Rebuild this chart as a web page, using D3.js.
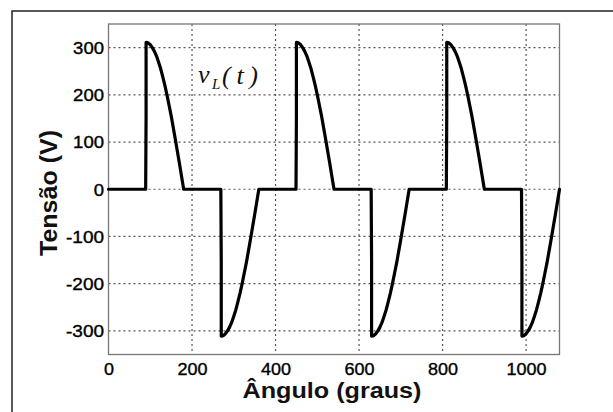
<!DOCTYPE html>
<html>
<head>
<meta charset="utf-8">
<script src="https://cdn.jsdelivr.net/npm/d3@7"></script>
<style>
  html, body { margin: 0; padding: 0; background: #fff; }
  svg { display: block; }
</style>
</head>
<body>
<svg id="chart" width="613" height="412"></svg>
<script>
// ---- Data ----
const angles = [
  0, 89, 90, 90, 95, 100, 105, 110, 115, 120, 125, 130, 135, 140, 145, 150, 155, 160, 165, 170, 175, 180,
  269, 270, 270, 275, 280, 285, 290, 295, 300, 305, 310, 315, 320, 325, 330, 335, 340, 345, 350, 355, 360,
  449, 450, 450, 455, 460, 465, 470, 475, 480, 485, 490, 495, 500, 505, 510, 515, 520, 525, 530, 535, 540,
  629, 630, 630, 635, 640, 645, 650, 655, 660, 665, 670, 675, 680, 685, 690, 695, 700, 705, 710, 715, 720,
  809, 810, 810, 815, 820, 825, 830, 835, 840, 845, 850, 855, 860, 865, 870, 875, 880, 885, 890, 895, 900,
  989, 990, 990, 995, 1000, 1005, 1010, 1015, 1020, 1025, 1030, 1035, 1040, 1045, 1050, 1055, 1060, 1065, 1070, 1075, 1080
];
const voltage = [
  0, 0, 155, 311, 310, 306, 300, 292, 282, 269, 255, 238, 220, 200, 178, 156, 131, 106, 80, 54, 27, 0,
  0, -155, -311, -310, -306, -300, -292, -282, -269, -255, -238, -220, -200, -178, -156, -131, -106, -80, -54, -27, 0,
  0, 155, 311, 310, 306, 300, 292, 282, 269, 255, 238, 220, 200, 178, 156, 131, 106, 80, 54, 27, 0,
  0, -155, -311, -310, -306, -300, -292, -282, -269, -255, -238, -220, -200, -178, -156, -131, -106, -80, -54, -27, 0,
  0, 155, 311, 310, 306, 300, 292, 282, 269, 255, 238, 220, 200, 178, 156, 131, 106, 80, 54, 27, 0,
  0, -155, -311, -310, -306, -300, -292, -282, -269, -255, -238, -220, -200, -178, -156, -131, -106, -80, -54, -27, 0
];
const xTicks = [0, 200, 400, 600, 800, 1000];
const yTicks = [-300, -200, -100, 0, 100, 200, 300];
const xLabel = "Ângulo (graus)";
const yLabel = "Tensão (V)";

// ---- Layout ----
const svg = d3.select("#chart");
const L = 108.5, R = 559.5, T = 24, B = 354.5;

const x = d3.scaleLinear().domain([0, 1080]).range([L, R]);
const y = d3.scaleLinear().domain([-350, 350]).range([B, T]);

// outer figure border
svg.append("rect")
  .attr("x", 12).attr("y", 11).attr("width", 640).attr("height", 440)
  .attr("fill", "none").attr("stroke", "#222").attr("stroke-width", 1.5);

// grid
const grid = svg.append("g").attr("stroke", "#555").attr("stroke-width", 1.2)
  .attr("stroke-dasharray", "2,3");
grid.selectAll("line.gx").data(xTicks.filter(d => d > 0)).join("line")
  .attr("x1", d => x(d)).attr("x2", d => x(d)).attr("y1", T).attr("y2", B);
grid.selectAll("line.gy").data(yTicks).join("line")
  .attr("y1", d => y(d)).attr("y2", d => y(d)).attr("x1", L).attr("x2", R);

// axes (labels only, MATLAB style)
const fontTick = "Liberation Sans, Arial, sans-serif";
const fmt = d => String(d);
const xAxis = svg.append("g").attr("transform", `translate(0,${B})`)
  .call(d3.axisBottom(x).tickValues(xTicks).tickSize(0).tickPadding(0).tickFormat(fmt));
xAxis.select(".domain").remove();
xAxis.selectAll("text")
  .attr("y", 20).attr("dy", null)
  .attr("font-family", fontTick).attr("font-size", 16).attr("fill", "#000")
  .attr("stroke", "#000").attr("stroke-width", 0.35)
  .attr("textLength", d => String(d).length * 10)
  .attr("lengthAdjust", "spacingAndGlyphs");

const yAxis = svg.append("g").attr("transform", `translate(${L},0)`)
  .call(d3.axisLeft(y).tickValues(yTicks).tickSize(0).tickPadding(0).tickFormat(fmt));
yAxis.select(".domain").remove();
yAxis.selectAll("text")
  .attr("x", -4.5).attr("dy", "0.36em")
  .attr("font-family", fontTick).attr("font-size", 16).attr("fill", "#000")
  .attr("stroke", "#000").attr("stroke-width", 0.35)
  .attr("textLength", d => d < 0 ? 38 : String(d).length * 10.3)
  .attr("lengthAdjust", "spacingAndGlyphs");

// frame
svg.append("rect")
  .attr("x", L).attr("y", T).attr("width", R - L).attr("height", B - T)
  .attr("fill", "none").attr("stroke", "#777").attr("stroke-width", 1.3);

// waveform
const pts = angles.map((a, i) => [a, voltage[i]]);
svg.append("path")
  .datum(pts)
  .attr("fill", "none").attr("stroke", "#000").attr("stroke-width", 3.2)
  .attr("stroke-linejoin", "round").attr("stroke-linecap", "round")
  .attr("d", d3.line().x(d => x(d[0])).y(d => y(d[1])));

// axis titles
svg.append("text")
  .attr("x", 332).attr("y", 398).attr("text-anchor", "middle")
  .attr("font-family", fontTick).attr("font-weight", "bold").attr("font-size", 22)
  .attr("fill", "#111")
  .attr("textLength", 179).attr("lengthAdjust", "spacingAndGlyphs")
  .text(xLabel);

svg.append("text")
  .attr("transform", "translate(57,193) rotate(-90)")
  .attr("text-anchor", "middle")
  .attr("font-family", fontTick).attr("font-weight", "bold").attr("font-size", 23)
  .attr("fill", "#111")
  .attr("textLength", 126).attr("lengthAdjust", "spacingAndGlyphs")
  .text(yLabel);

// annotation v_L(t)
const ann = svg.append("g").attr("font-family", "Liberation Serif, Times New Roman, serif")
  .attr("font-style", "italic").attr("fill", "#111");
ann.append("text").attr("x", 198).attr("y", 83).attr("font-size", 26).text("v");
ann.append("text").attr("x", 212).attr("y", 89).attr("font-size", 15).text("L");
ann.append("text").attr("x", 222).attr("y", 84).attr("font-size", 26)
  .attr("textLength", 36).attr("lengthAdjust", "spacing")
  .text("(t)");
</script>
</body>
</html>
